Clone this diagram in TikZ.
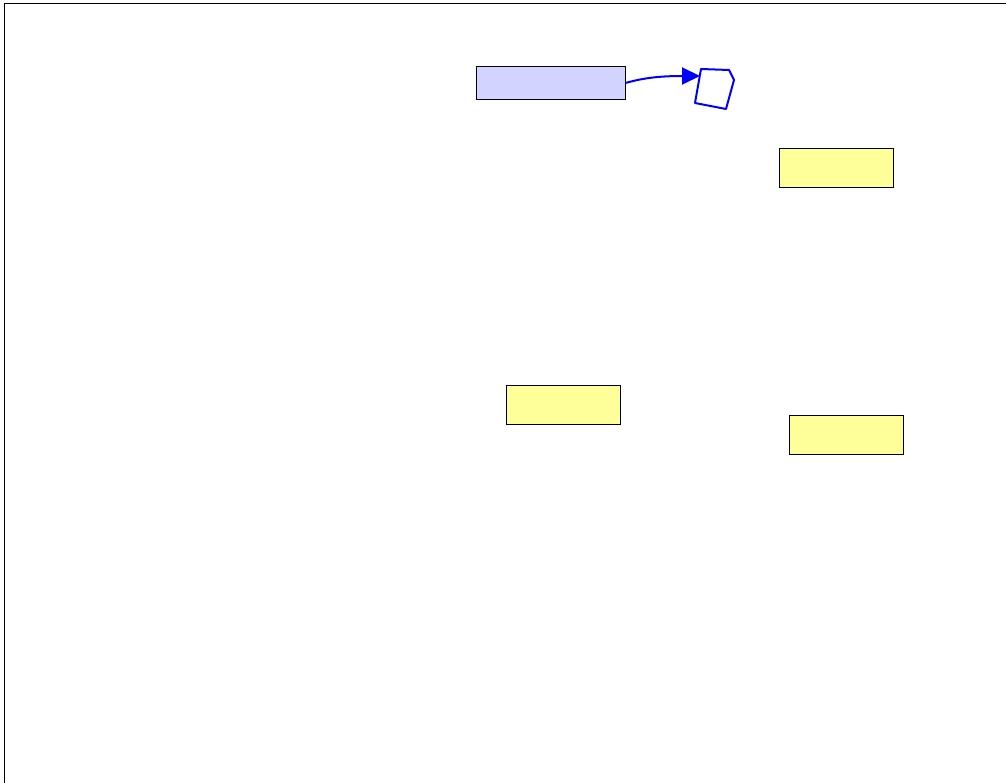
\documentclass[tikz,border=0pt]{standalone}
\usepackage{tikz}
\usetikzlibrary{arrows.meta,positioning,calc}
\definecolor{notefill}{RGB}{255,255,153}
\definecolor{classfill}{RGB}{210,212,255}
\definecolor{linkblue}{RGB}{0,0,255}

\begin{document}
\begin{tikzpicture}[x=1pt,y=-1pt,
  notebox/.style={draw=black, line width=0.8pt, fill=notefill, minimum width=114pt, minimum height=39pt, inner sep=0pt, anchor=north west},
  classbox/.style={draw=black, line width=0.8pt, fill=classfill, minimum width=149pt, minimum height=33pt, inner sep=0pt, anchor=north west}]
\useasboundingbox (0,0) rectangle (1006,783);
% frame
\draw[line width=1pt] (4,783) -- (4,4) -- (1006,4);
% boxes
\node[classbox] (source) at (476,66) {};
\node[notebox] (noteA) at (779,148) {};
\node[notebox] (noteB) at (506,385) {};
\node[notebox] (noteC) at (789,415) {};
% target shape
\draw[linkblue, line width=2pt, line join=round] (701,69) -- (729,70) -- (734,80) -- (726,109) -- (695,103) -- cycle;
\coordinate (target) at (700,76);
% link
\draw[linkblue, line width=2pt, -{Triangle[length=18pt,width=17pt]}] (source.east) .. controls (640,79) and (655,76) .. (target);
\end{tikzpicture}
\end{document}
